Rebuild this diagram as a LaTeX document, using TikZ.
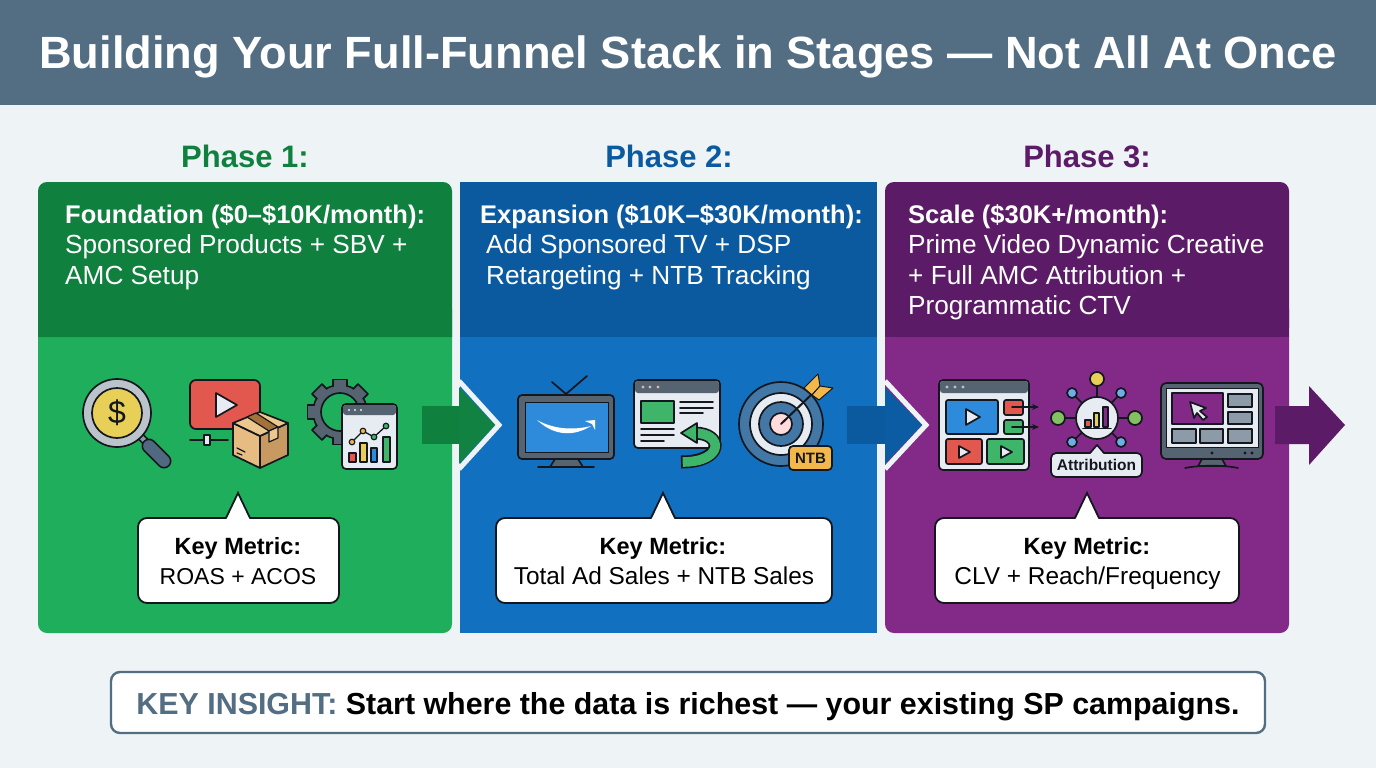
\documentclass[tikz,border=0pt]{standalone}
\usepackage{fontspec}
\usepackage{tikz}
\usepackage{xcolor}
\setmainfont{Liberation Sans}
\usetikzlibrary{arrows.meta,calc}
\definecolor{pagebg}{HTML}{EEF3F6}
\definecolor{bannerslate}{HTML}{536D83}
\definecolor{greenbody}{HTML}{1FAF5C}
\definecolor{greenhead}{HTML}{10803F}
\definecolor{bluebody}{HTML}{1170C0}
\definecolor{bluehead}{HTML}{0B5AA0}
\definecolor{purplebody}{HTML}{832A88}
\definecolor{purplehead}{HTML}{5C1B66}
\definecolor{ink}{HTML}{14181E}
\definecolor{iconslate}{HTML}{566370}
\definecolor{iconpale}{HTML}{E6ECF2}
\definecolor{icongray}{HTML}{8D9BA8}
\definecolor{iconred}{HTML}{E2584F}
\definecolor{iconyellow}{HTML}{E8CF58}
\definecolor{iconamber}{HTML}{F2B84B}
\definecolor{iconblue}{HTML}{2E8BDC}
\definecolor{icongreen}{HTML}{3FB56A}
\definecolor{cartonleft}{HTML}{E6BC82}
\definecolor{cartonright}{HTML}{C89A62}
\definecolor{cartontop}{HTML}{ECC88E}
\definecolor{cartontape}{HTML}{A5713A}
\tikzset{
  titletext/.style={font=\bfseries\fontsize{45.2}{48}\selectfont,text=white,inner sep=0pt},
  phasetext/.style={font=\bfseries\fontsize{31}{36}\selectfont,inner sep=0pt,anchor=base},
  leadtext/.style={font=\bfseries\fontsize{25.5}{28}\selectfont,text=white,inner sep=0pt,anchor=base west},
  bodytext/.style={font=\fontsize{26.2}{28}\selectfont,text=white,inner sep=0pt,anchor=base west},
  metrichead/.style={font=\bfseries\fontsize{23.5}{26}\selectfont,text=black,inner sep=0pt,anchor=base},
  metricbody/.style={font=\fontsize{24.4}{28}\selectfont,text=black,inner sep=0pt,anchor=base},
  outlined/.style={draw=ink,line width=1.7pt,line join=round},
  thinline/.style={draw=ink,line width=1.7pt,line cap=round}
}
\begin{document}
\begin{tikzpicture}[x=1pt,y=-1pt]
    \useasboundingbox (0,0) rectangle (1376,768);
    \fill[pagebg] (0,0) rectangle (1376,768);
    \fill[bannerslate] (0,0) rectangle (1376,105);
    \node[titletext,anchor=base] (title) at (688,68) {Building Your Full-Funnel Stack in Stages — Not All At Once};

    % Phase panels
    \fill[greenbody,rounded corners=9pt] (38,300) -- (38,633) -- (452,633) -- (452,300) -- cycle;
    \fill[greenhead,rounded corners=9pt] (38,337) -- (38,182) -- (452,182) [sharp corners] -- (452,337) -- cycle;
    \fill[greenhead] (38,320) rectangle (452,337);
    \fill[bluebody] (460,337) rectangle (877,633);
    \fill[bluehead] (460,182) rectangle (877,337);
    \fill[purplebody,rounded corners=9pt] (885,300) -- (885,633) -- (1289,633) -- (1289,300) -- cycle;
    \fill[purplehead,rounded corners=9pt] (885,337) -- (885,182) -- (1289,182) -- (1289,337) -- cycle;
    \fill[purplehead] (885,320) rectangle (1289,337);

    \node[phasetext,text=greenhead] (phaseone) at (245,167) {Phase 1:};
    \node[phasetext,text=bluehead] (phasetwo) at (669,167) {Phase 2:};
    \node[phasetext,text=purplehead] (phasethree) at (1087,167) {Phase 3:};

    \node[leadtext] (foundation) at (65,223) {Foundation (\$0–\$10K/month):};
    \node[bodytext] (foundationa) at (65,253) {Sponsored Products + SBV +};
    \node[bodytext] (foundationb) at (65,284) {AMC Setup};
    \node[leadtext] (expansion) at (480,223) {Expansion (\$10K–\$30K/month):};
    \node[bodytext] (expansiona) at (486,253) {Add Sponsored TV + DSP};
    \node[bodytext] (expansionb) at (486,284) {Retargeting + NTB Tracking};
    \node[leadtext] (scale) at (908,223) {Scale (\$30K+/month):};
    \node[bodytext] (scalea) at (908,253) {Prime Video Dynamic Creative};
    \node[bodytext] (scaleb) at (908,284) {+ Full AMC Attribution +};
    \node[bodytext] (scalec) at (908,314) {Programmatic CTV};

    % Arrows between the phases
    \fill[greenhead] (422,406) rectangle (460,444);
    \fill[greenhead!95!greenbody] (459,387) -- (495,425) -- (459,464) -- cycle;
    \draw[pagebg,line width=5pt,miter limit=10] (459,381) -- (499,425) -- (459,469);
    \fill[bluehead] (847,406) rectangle (886,444);
    \fill[bluehead!90!bluebody] (885,387) -- (922,425) -- (885,464) -- cycle;
    \draw[pagebg,line width=5pt,miter limit=10] (885,381) -- (926,425) -- (885,469);
    \fill[purplehead] (1275,406) -- (1309,406) -- (1309,386) -- (1345,425) -- (1309,465) -- (1309,444) -- (1275,444) -- cycle;

    % Key metric callouts
    \foreach \boxl/\boxr/\tipx in {138/339/238,496/832/663,935/1239/1087} {
        \draw[fill=white,draw=ink,line width=1.8pt,rounded corners=9pt] (\boxl,518) rectangle (\boxr,603);
        \fill[white] (\tipx-12,520) -- (\tipx,493) -- (\tipx+12,520) -- cycle;
        \draw[draw=ink,line width=1.8pt,line join=miter] (\tipx-12,518) -- (\tipx,493) -- (\tipx+12,518);
    }
    \node[metrichead] (metricone) at (238,554) {Key Metric:};
    \node[metricbody,font=\fontsize{23}{28}\selectfont] (metriconeb) at (238,584) {ROAS + ACOS};
    \node[metrichead] (metrictwo) at (663,554) {Key Metric:};
    \node[metricbody] (metrictwob) at (664,584) {Total Ad Sales + NTB Sales};
    \node[metrichead] (metricthree) at (1087,554) {Key Metric:};
    \node[metricbody] (metricthreeb) at (1087.5,584) {CLV + Reach/Frequency};

    % Key insight bar
    \draw[fill=white,draw=bannerslate,line width=2.4pt,rounded corners=9pt] (111,672) rectangle (1265,733);
    \node[inner sep=0pt,anchor=base,font=\bfseries\fontsize{30.4}{34}\selectfont] (insight) at (688,714)
        {\textcolor{bannerslate}{KEY INSIGHT:} Start where the data is richest — your existing SP campaigns.};

    % Magnifier icon
    \draw[draw=ink,line width=8pt] (140,436) -- (149,445);
    \draw[draw=icongray,line width=4.5pt] (140,436) -- (149,445);
    \draw[draw=ink,line width=15pt,line cap=round] (149,446) -- (164,461);
    \draw[draw=iconslate!85!iconblue,line width=11.6pt,line cap=round] (149,446) -- (164,461);
    \draw[outlined,fill=icongray!60!white] (117,413) circle[radius=34];
    \draw[outlined,fill=iconyellow] (117,413) circle[radius=25];
    \node[inner sep=0pt,text=ink,font=\fontsize{32}{34}\selectfont] (dollar) at (117,413) {\$};

    % Video and parcel icon
    \draw[outlined,fill=iconred,rounded corners=6pt] (190,380) rectangle (260,429);
    \draw[outlined,fill=iconpale] (216,393) -- (237,405) -- (216,417) -- cycle;
    \draw[thinline] (190,440) -- (228,440);
    \draw[outlined,fill=iconpale] (204,435) rectangle (210,445);
    \draw[outlined,fill=cartonleft] (233,423) -- (260,436) -- (260,468) -- (233,455) -- cycle;
    \draw[outlined,fill=cartonright] (260,436) -- (288,423) -- (288,455) -- (260,468) -- cycle;
    \draw[outlined,fill=cartontop] (233,423) -- (260,412) -- (288,423) -- (260,436) -- cycle;
    \draw[outlined,line width=1.2pt,fill=cartontape] (247,417) -- (256,413) -- (278,427) -- (269,431) -- cycle;
    \draw[outlined,line width=1.2pt,fill=cartontop] (269,431) -- (278,427) -- (278,438) -- (269,442) -- cycle;
    \draw[thinline,line width=1.2pt] (237,448) -- (245,452) (237,453) -- (242,455);

    % Gear and chart icon
    \draw[outlined,fill=iconslate] (340,412) circle[radius=27];
    \foreach \tooth in {0,45,...,315} {
        \draw[outlined,fill=iconslate,rotate around={\tooth:(340,412)}] (333,379.5) rectangle (347,392);
    }
    \fill[iconslate] (340,412) circle[radius=26];
    \draw[outlined,fill=greenbody] (340,412) circle[radius=19];
    \draw[outlined,fill=iconpale,rounded corners=4pt] (342,404) rectangle (397,469);
    \fill[iconslate,rounded corners=3pt] (343,405) rectangle (396,415);
    \foreach \dotx in {349,355,361} {\fill[iconpale] (\dotx,410) circle[radius=1.2];}
    \draw[outlined,line width=1.2pt,fill=iconred] (349,453) rectangle (356,462);
    \draw[outlined,line width=1.2pt,fill=iconyellow] (360,443) rectangle (367,462);
    \draw[outlined,line width=1.2pt,fill=iconblue] (371,448) rectangle (377,462);
    \draw[outlined,line width=1.2pt,fill=icongreen] (383,437) rectangle (390,462);
    \draw[thinline,line width=1.3pt] (352,442) -- (363,431) -- (374,437) -- (386,426);
    \draw[outlined,line width=1.2pt,fill=iconamber] (352,442) circle[radius=2.8];
    \draw[outlined,line width=1.2pt,fill=iconamber] (363,431) circle[radius=2.8];
    \draw[outlined,line width=1.2pt,fill=icongreen] (374,437) circle[radius=2.8];
    \draw[outlined,line width=1.2pt,fill=icongreen] (386,426) circle[radius=2.8];

    % Television icon
    \draw[thinline] (552,382) -- (566,394) -- (587,376);
    \draw[outlined,fill=iconslate] (550,467) -- (555,459) -- (578,459) -- (583,467) -- cycle;
    \draw[thinline] (538,467) -- (594,467);
    \draw[outlined,fill=iconslate,rounded corners=4pt] (518,395) rectangle (614,459);
    \draw[draw=ink,line width=1pt,fill=iconblue] (525,402) rectangle (608,452);
    \fill[white] (537,420) .. controls (555,437) and (575,436) .. (591,426) .. controls (575,430) and (555,430) .. (537,420) -- cycle;
    \fill[white] (585,421) -- (595,420) -- (595,430) -- (592,424) -- cycle;

    % Retargeting page icon
    \draw[outlined,fill=iconpale,rounded corners=4pt] (634,380) rectangle (720,448);
    \fill[iconslate,rounded corners=3pt] (635,381) rectangle (719,393);
    \foreach \dotx in {643,650,658} {\fill[iconpale!60!iconred] (\dotx,387) circle[radius=1.6];}
    \draw[outlined,fill=icongreen] (641,401) rectangle (674,423);
    \foreach \linex/\liney in {713/402,713/408,703/413} {\draw[thinline] (680,\liney) -- (\linex,\liney);}
    \foreach \linex/\liney in {674/429,674/435,664/441} {\draw[thinline] (641,\liney) -- (\linex,\liney);}
    \draw[draw=ink,line width=13pt] (694,433) .. controls (724,433) and (724,462) .. (681,462);
    \draw[draw=icongreen,line width=9.6pt] (694,433) .. controls (724,433) and (724,462) .. (682.7,462);
    \draw[outlined,fill=icongreen] (681,433) -- (697,423) -- (697,443) -- cycle;

    % Target icon
    \draw[outlined,fill=iconblue!50!iconslate] (781,424) circle[radius=42];
    \draw[outlined,fill=iconpale] (781,424) circle[radius=31];
    \draw[outlined,fill=iconblue!50!iconslate] (781,424) circle[radius=22];
    \draw[outlined,fill=pink!55!white] (781,424) circle[radius=11];
    \draw[thinline,line width=2pt] (781,424) -- (812,394);
    \draw[outlined,line width=1pt,fill=iconamber] (804,388) -- (818,374) -- (820,386) -- (812,395) -- cycle;
    \draw[outlined,line width=1pt,fill=iconamber] (812,395) -- (820,386) -- (833,388) -- (819,400) -- cycle;
    \node[outlined,fill=iconamber,rounded corners=4pt,minimum width=43pt,minimum height=24pt,inner sep=0pt,
        text=ink,font=\bfseries\fontsize{15}{16}\selectfont] (ntbbadge) at (810.5,458) {NTB};

    % Creative tiles icon
    \draw[outlined,fill=iconpale,rounded corners=4pt] (939,380) rectangle (1029,470);
    \fill[iconslate,rounded corners=3pt] (940,381) rectangle (1028,393);
    \foreach \dotx in {947,955,963} {\fill[iconpale!70!iconslate] (\dotx,387) circle[radius=1.6];}
    \draw[outlined,fill=iconblue,rounded corners=2pt] (946,400) rectangle (998,434);
    \draw[outlined,fill=iconpale] (966,409) -- (980,417) -- (966,425) -- cycle;
    \draw[outlined,fill=iconred,rounded corners=2pt] (1004,400) rectangle (1023,415);
    \draw[outlined,fill=icongreen,rounded corners=2pt] (1004,420) rectangle (1023,434);
    \draw[outlined,fill=iconred,rounded corners=2pt] (946,439) rectangle (982,464);
    \draw[outlined,fill=iconpale] (959,446) -- (970,452) -- (959,458) -- cycle;
    \draw[outlined,fill=icongreen,rounded corners=2pt] (987,439) rectangle (1024,464);
    \draw[outlined,fill=iconpale] (1001,446) -- (1012,452) -- (1001,458) -- cycle;
    \draw[thinline,-{Stealth[length=7pt,width=6pt]}] (1012,407) -- (1039,407);
    \draw[thinline,-{Stealth[length=7pt,width=6pt]}] (1012,427) -- (1039,427);

    % Attribution hub icon
    \foreach \spokex/\spokey/\spokecol/\spoker in {1097/379/iconyellow/7,1058/418/icongreen!60!iconyellow/7,1135/418/icongreen!60!iconyellow/7,
        1072/393/iconblue!70!white/5,1121/393/iconblue!70!white/5,1072/442/iconblue!70!white/5,1121/442/iconblue!70!white/5} {
        \draw[thinline] (1097,418) -- (\spokex,\spokey);
        \draw[outlined,fill=\spokecol] (\spokex,\spokey) circle[radius=\spoker];
    }
    \draw[outlined,fill=iconpale] (1097,418) circle[radius=21];
    \draw[outlined,line width=1.2pt,fill=iconred] (1085,420) rectangle (1091,427);
    \draw[outlined,line width=1.2pt,fill=iconyellow] (1094,413) rectangle (1099,427);
    \draw[outlined,line width=1.2pt,fill=purplebody] (1103,407) rectangle (1108,427);
    \draw[thinline] (1083,428.5) -- (1111,428.5);
    \draw[outlined,fill=iconpale,rounded corners=5pt] (1051,453) rectangle (1142,477);
    \fill[iconpale] (1090,454.5) -- (1097,445) -- (1104,454.5) -- cycle;
    \draw[outlined] (1090,453) -- (1097,445) -- (1104,453);
    \node[inner sep=0pt,anchor=base,text=ink,font=\bfseries\fontsize{15.5}{17}\selectfont] (attribution) at (1096.5,470) {Attribution};

    % Programmatic screen icon
    \draw[outlined,fill=iconslate] (1198,466) -- (1202,459) -- (1222,459) -- (1226,466) -- cycle;
    \draw[thinline] (1185,468) .. controls (1200,465) and (1224,465) .. (1238,468);
    \draw[outlined,fill=iconslate,rounded corners=5pt] (1161,383) rectangle (1263,459);
    \draw[outlined,line width=1pt,fill=iconpale] (1166,388) rectangle (1258,447);
    \draw[outlined,fill=purplebody] (1172,393) rectangle (1223,424);
    \foreach \tilel/\tilet/\tiler/\tileb in {1228/394/1252/407,1228/412/1252/424,1172/429/1196/443,1200/429/1223/443,1228/429/1252/443} {
        \draw[outlined,fill=icongray] (\tilel,\tilet) rectangle (\tiler,\tileb);
    }
    \draw[outlined,fill=iconpale] (1190,402) -- (1206,408) -- (1200,411) -- (1207,417) -- (1203,420) -- (1197,413) -- (1194,418) -- cycle;
    \foreach \dotx in {1212,1245,1252} {\fill[ink] (\dotx,453) circle[radius=1.7];}
\end{tikzpicture}
\end{document}
